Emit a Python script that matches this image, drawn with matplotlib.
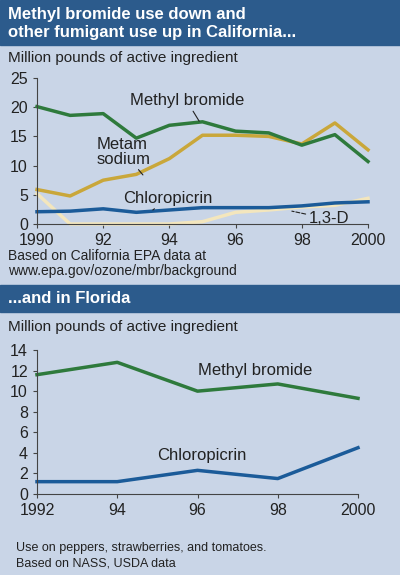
import matplotlib
matplotlib.use("Agg")
import matplotlib.pyplot as plt
from matplotlib.patches import Rectangle

plt.rcParams['font.family'] = ['Liberation Sans', 'DejaVu Sans']

years_ca = [1990,1991,1992,1993,1994,1995,1996,1997,1998,1999,2000]
mb_ca = [20.1,18.6,18.9,14.7,16.9,17.5,15.9,15.6,13.5,15.3,10.7]
metam_ca = [5.9,4.8,7.5,8.5,11.2,15.2,15.2,15.0,13.7,17.3,12.7]
chloro_ca = [2.1,2.2,2.6,2.0,2.4,2.8,2.8,2.8,3.1,3.6,3.8]
d13_ca = [5.2,0,0,0,0,0.4,2.0,2.4,2.9,3.2,4.4]
xt_ca = [1990,1992,1994,1996,1998,2000]
xl_ca = ["1990","92","94","96","98","2000"]

years_fl = [1992,1994,1996,1998,2000]
mb_fl = [11.6,12.8,10.0,10.7,9.3]
chloro_fl = [1.2,1.2,2.3,1.5,4.5]

BG = "#c9d5e7"; BAR = "#2c5b8c"
GREEN = "#2e7a3c"; GOLD = "#c9a73a"; BLUE = "#1b5b99"; CREAM = "#f3e6bd"
TXT = "#222222"

fig = plt.figure(figsize=(4, 5.75), dpi=100, facecolor=BG)
H = 575.0
def fy(y): return 1 - y/H

fig.patches.append(Rectangle((0, fy(45)), 1, 45/H, transform=fig.transFigure, color=BAR))
fig.patches.append(Rectangle((0, fy(312)), 1, 27/H, transform=fig.transFigure, color=BAR))
fig.text(0.02, fy(14), "Methyl bromide use down and", color="white", fontsize=12, fontweight="bold", va="center")
fig.text(0.02, fy(33), "other fumigant use up in California...", color="white", fontsize=12, fontweight="bold", va="center")
fig.text(0.02, fy(298), "...and in Florida", color="white", fontsize=12, fontweight="bold", va="center")
fig.text(0.02, fy(58), "Million pounds of active ingredient", color=TXT, fontsize=11, va="center")
fig.text(0.02, fy(327), "Million pounds of active ingredient", color=TXT, fontsize=11, va="center")
fig.text(0.02, fy(256), "Based on California EPA data at", color=TXT, fontsize=10, va="center")
fig.text(0.02, fy(271), "www.epa.gov/ozone/mbr/background", color=TXT, fontsize=10, va="center")
fig.text(0.04, fy(548), "Use on peppers, strawberries, and tomatoes.", color=TXT, fontsize=9, va="center")
fig.text(0.04, fy(563), "Based on NASS, USDA data", color=TXT, fontsize=9, va="center")

def style(ax):
    ax.set_facecolor(BG)
    for s in ["top","right"]: ax.spines[s].set_visible(False)
    for s in ["left","bottom"]: ax.spines[s].set_color("#444444")
    ax.tick_params(colors="#444444", labelcolor=TXT, labelsize=11.5, length=3)

ax1 = fig.add_axes([37/400, fy(224), 331/400, 146/H])
style(ax1)
ax1.plot(years_ca, d13_ca, color=CREAM, lw=2.5, clip_on=False)
ax1.plot(years_ca, chloro_ca, color=BLUE, lw=2.5, clip_on=False)
ax1.plot(years_ca, metam_ca, color=GOLD, lw=2.5, clip_on=False)
ax1.plot(years_ca, mb_ca, color=GREEN, lw=2.5, clip_on=False)
ax1.set_xlim(1990, 2000); ax1.set_ylim(0, 25)
ax1.set_yticks([0,5,10,15,20,25])
ax1.set_xticks(xt_ca); ax1.set_xticklabels(xl_ca)
ax1.annotate("Methyl bromide", xy=(1994.9, 17.6), xytext=(1992.8, 20.3), fontsize=12, color=TXT,
             arrowprops=dict(arrowstyle="-", color=TXT, lw=0.8, shrinkA=0, shrinkB=0))
ax1.annotate("Metam\nsodium", xy=(1993.2, 8.4), xytext=(1991.8, 10.3), fontsize=12, color=TXT,
             arrowprops=dict(arrowstyle="-", color=TXT, lw=0.8, shrinkA=0, shrinkB=0), ha="left", linespacing=1.0)
ax1.annotate("Chloropicrin", xy=(1993.5, 2.4), xytext=(1992.6, 3.6), fontsize=12, color=TXT,
             arrowprops=dict(arrowstyle="-", color=TXT, lw=0.8, shrinkA=0, shrinkB=0))
ax1.annotate("1,3-D", xy=(1997.7, 2.2), xytext=(1998.2, 0.1), fontsize=12, color=TXT,
             arrowprops=dict(arrowstyle="-", color=TXT, lw=0.8, linestyle="--", shrinkA=0, shrinkB=0))

ax2 = fig.add_axes([37/400, fy(494), 321/400, 144/H])
style(ax2)
ax2.plot(years_fl, mb_fl, color=GREEN, lw=2.5, clip_on=False)
ax2.plot(years_fl, chloro_fl, color=BLUE, lw=2.5, clip_on=False)
ax2.set_xlim(1992, 2000); ax2.set_ylim(0, 14)
ax2.set_yticks([0,2,4,6,8,10,12,14])
ax2.set_xticks(years_fl); ax2.set_xticklabels(["1992","94","96","98","2000"])
ax2.text(1996.0, 11.6, "Methyl bromide", fontsize=12, color=TXT)
ax2.text(1995.0, 3.3, "Chloropicrin", fontsize=12, color=TXT)

fig.savefig("out.png", dpi=100, facecolor=BG)
